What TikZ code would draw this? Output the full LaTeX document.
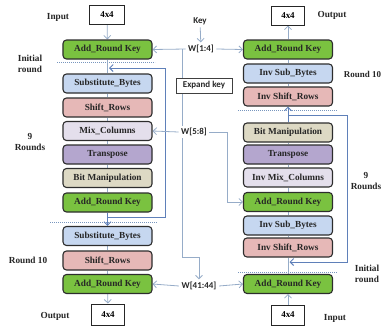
\documentclass[tikz,border=0pt]{standalone}
\usepackage{fontspec}
\setmainfont{Liberation Serif}
\newfontfamily\keyfont{Carlito}
\usetikzlibrary{arrows.meta,backgrounds}
\definecolor{cgreen}{RGB}{122,194,64}
\definecolor{cblue}{RGB}{198,215,240}
\definecolor{cpink}{RGB}{230,184,183}
\definecolor{clav}{RGB}{228,223,236}
\definecolor{cpurp}{RGB}{180,166,206}
\definecolor{cbeige}{RGB}{221,217,196}
\definecolor{edgec}{RGB}{45,45,45}
\definecolor{linkc}{RGB}{150,172,200}
\definecolor{loopc}{RGB}{95,128,185}
\definecolor{dotc}{RGB}{120,150,190}
\begin{document}
\begin{tikzpicture}[x=1bp,y=-1bp,
  box/.style={draw=edgec, line width=1.1bp, rounded corners=3.5bp,
    minimum width=89bp, minimum height=19bp, inner sep=0pt,
    font=\fontsize{9.3}{11}\selectfont\bfseries, text=black!85},
  sq/.style={draw=black!85, line width=1bp, fill=white, minimum width=34bp,
    minimum height=19bp, inner sep=0pt, font=\fontsize{9}{11}\selectfont\bfseries},
  lab/.style={font=\fontsize{9.3}{11}\selectfont\bfseries, align=center, text=black!85, inner sep=0pt},
  klab/.style={font=\keyfont\fontsize{9}{11}\selectfont\bfseries, text=black!85, inner sep=2.5bp},
  conn/.style={draw=linkc, line width=0.8bp},
  arr/.style={conn, -{Straight Barb[length=3.5bp,width=7bp]}},
  lp/.style={draw=loopc, line width=1bp},
  lparr/.style={lp, -{Straight Barb[length=3.5bp,width=7bp]}},
  sep/.style={draw=dotc, line width=0.8bp, dash pattern=on 1bp off 1bp}]
\useasboundingbox (0,0) rectangle (383,328);

% ---------- left column (encryption)
\node[sq] (inL) at (107,14.5) {4x4};
\node[box, fill=cgreen] (arkL1) at (107.5,49.5) {Add\_Round Key};
\node[box, fill=cblue] (sbL1) at (107.5,83.5) {Substitute\_Bytes};
\node[box, fill=cpink] (srL1) at (107.5,107.5) {Shift\_Rows};
\node[box, fill=clav] (mcL) at (107.5,131) {Mix\_Columns};
\node[box, fill=cpurp] (tL) at (107.5,154.5) {Transpose};
\node[box, fill=cbeige] (bmL) at (107.5,178) {Bit Manipulation};
\node[box, fill=cgreen] (arkL2) at (107.5,202.5) {Add\_Round Key};
\node[box, fill=cblue] (sbL2) at (107.5,236) {Substitute\_Bytes};
\node[box, fill=cpink] (srL2) at (107.5,260.5) {Shift\_Rows};
\node[box, fill=cgreen] (arkL3) at (107.5,284) {Add\_Round Key};
\node[sq, minimum height=21bp, minimum width=33bp] (outL) at (108,314.5) {4x4};

% ---------- right column (decryption)
\node[sq, minimum width=33bp] (outR) at (288,15.5) {4x4};
\node[box, fill=cgreen] (arkR1) at (288,49.5) {Add\_Round Key};
\node[box, fill=cblue] (isbR1) at (288,73.5) {Inv Sub\_Bytes};
\node[box, fill=cpink] (isrR1) at (288,96.5) {Inv Shift\_Rows};
\node[box, fill=cbeige] (bmR) at (288,132.5) {Bit Manipulation};
\node[box, fill=cpurp] (tR) at (288,154.5) {Transpose};
\node[box, fill=clav] (imcR) at (288,177.5) {Inv Mix\_Columns};
\node[box, fill=cgreen] (arkR2) at (288,202) {Add\_Round Key};
\node[box, fill=cblue] (isbR2) at (288,225.5) {Inv Sub\_Bytes};
\node[box, fill=cpink] (isrR2) at (288,247.5) {Inv Shift\_Rows};
\node[box, fill=cgreen] (arkR3) at (288,284) {Add\_Round Key};
\node[sq, minimum width=33bp, minimum height=20bp] (inR) at (288,315) {4x4};

% ---------- key schedule
\node[klab] (key) at (200,21) {Key};
\node[klab] (w14) at (201,49) {W[1:4]};
\node[draw=black!75, line width=0.7bp, fill=white, minimum width=56bp, minimum height=15bp,
      inner sep=0pt, font=\keyfont\fontsize{9}{11}\selectfont\bfseries, text=black!85] (expand) at (204,85.5) {Expand key};
\node[klab, fill=white] (w58) at (194,132) {W[5:8]};
\node[klab, fill=white] (w4144) at (199,286) {W[41:44]};
\coordinate (j1) at (182,49);
\coordinate (j2) at (182,257);
\coordinate (j3) at (227,132);

% ---------- side labels
\node[lab] (tin) at (58,17) {Input};
\node[lab] (tinit) at (30,63.5) {Initial\\round};
\node[lab] (t9) at (30,142) {9\\Rounds};
\node[lab] (tr10) at (28,260) {Round 10};
\node[lab] (tout) at (55,316) {Output};
\node[lab] (toutR) at (332,15) {Output};
\node[lab, font=\fontsize{9}{11}\selectfont\bfseries] (tr10R) at (362.5,74) {Round 10};
\node[lab] (t9R) at (366,181) {9\\Rounds};
\node[lab] (tinitR) at (367,274) {Initial\\round};
\node[lab] (tinR) at (335,318) {Input};

\begin{scope}[on background layer]
% separators
\draw[sep] (57,62) -- (155,62);
\draw[sep] (50,222) -- (157,222);
\draw[sep] (238,110) -- (337,110);
\draw[sep] (238,272) -- (337,272);

% left column flow
\draw[arr] (inL) -- (arkL1);
\draw[conn] (arkL1) -- (sbL1);
\draw[conn] (sbL1) -- (srL1);
\draw[conn] (srL1) -- (mcL);
\draw[conn] (mcL) -- (tL);
\draw[conn] (tL) -- (bmL);
\draw[conn] (bmL) -- (arkL2);
\draw[lparr] (arkL2) -- (sbL2);
\draw[conn] (sbL2) -- (srL2);
\draw[conn] (srL2) -- (arkL3);
\draw[arr] (arkL3) -- (outL);
\draw[lparr] (arkL2.south) |- (165,217) -- (165,68) -- ([xshift=1.5bp]arkL1.south |- 0,68);

% right column flow
\draw[arr] (inR) -- (arkR3);
\draw[conn] (arkR3) -- (isrR2);
\draw[conn] (isrR2) -- (isbR2);
\draw[conn] (isbR2) -- (arkR2);
\draw[conn] (arkR2) -- (imcR);
\draw[conn] (imcR) -- (tR);
\draw[conn] (tR) -- (bmR);
\draw[lparr] (bmR) -- (isrR1);
\draw[conn] (isrR1) -- (isbR1);
\draw[conn] (isbR1) -- (arkR1);
\draw[arr] (arkR1) -- (outR);
\draw[lparr] (bmR.north) |- (347,115) -- (347,262) -- ([xshift=1.5bp]isrR2.south |- 0,262);

% key schedule
\draw[arr] (key) -- (w14);
\draw[arr] (w14.west) -- (arkL1.east);
\draw[arr] (w14.east) -- (arkR1.west);
\draw[conn] (expand.north -| j1) -- (j1);
\draw[arr] (expand.south -| j2) -- (j2) -| (w4144.north);
\draw[arr] (w58.west) -- (mcL.east);
\draw[arr] (w58.east) -- (j3) |- (arkR2.west);
\draw[arr] (w4144.west) -- (arkL3.east);
\draw[arr] (w4144.east) -- (arkR3.west);
\end{scope}
\end{tikzpicture}
\end{document}
